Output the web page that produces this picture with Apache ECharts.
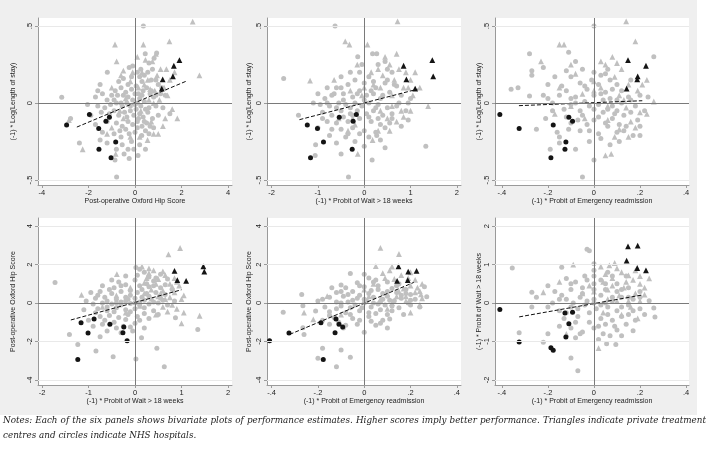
<!DOCTYPE html>
<html>
<head>
<meta charset="utf-8">
<script src="https://cdn.jsdelivr.net/npm/echarts@6/dist/echarts.min.js"></script>
<style>
  html, body { margin:0; padding:0; background:#fff; }
  #wrap { position:relative; width:709px; height:453px; overflow:hidden; }
  #bg { position:absolute; left:0; top:0; width:697px; height:415px; background:#efefef; }
  #chart { position:absolute; left:0; top:0; width:709px; height:453px; }
  #notes { position:absolute; left:3px; top:413px; width:703px; font-family:"DejaVu Serif", serif; font-style:italic;
           font-size:8.8px; line-height:15px; text-align:justify; color:#222; }
</style>
</head>
<body>
<div id="wrap">
  <div id="bg"></div>
  <div id="chart"></div>
  <div id="notes">Notes: Each of the six panels shows bivariate plots of performance estimates. Higher scores imply better performance. Triangles indicate private treatment centres and circles indicate NHS hospitals.</div>
</div>
<script>
// ---------- Axis titles ----------
const T_OHS = 'Post-operative Oxford Hip Score';
const T_LOS = '(-1) * Log(Length of stay)';
const T_WAIT = '(-1) * Probit of Wait > 18 weeks';
const T_EMERG = '(-1) * Probit of Emergency readmission';

// ---------- Tick labels ----------
const ticksLOS = [-0.5, 0, 0.5];
const ticksOHSx = [-4, -2, 0, 2, 4];
const ticksOHSy = [-4, -2, 0, 2, 4];
const ticksWait = [-2, -1, 0, 1, 2];
const ticksEmerg = [-0.4, -0.2, 0, 0.2, 0.4];

// ---------- Highlighted hospitals (black) ----------
// NHS hospitals (circles)
const nhsOHS   = [-2.94, -1.96, -1.10, -1.25, -1.56, -0.83, -1.55, -1.03];
const nhsLOS   = [-0.143, -0.075, -0.093, -0.119, -0.165, -0.253, -0.300, -0.355];
const nhsWait  = [-1.23, -0.17, -0.54, -0.24, -1.01, -0.88, -0.26, -1.16];
const nhsEmerg = [-0.177, -0.409, -0.109, -0.093, -0.325, -0.122, -0.126, -0.187];
// Private treatment centres (triangles)
const tcOHS   = [1.91, 1.63, 1.15, 1.19, 1.67];
const tcLOS   = [0.279, 0.173, 0.093, 0.154, 0.242];
const tcWait  = [1.47, 1.49, 1.10, 0.91, 0.85];
const tcEmerg = [0.148, 0.190, 0.142, 0.188, 0.226];

// ---------- Panel 1: OHS (x) vs LOS (y) ----------
const p1Circles = [[0.36,0.50],[0.44,0.32],[0.93,0.325],[0.82,0.29],[0.60,0.26],[-1.19,0.20],[-0.25,0.23],[-0.1,0.24],[0.1,0.2],[0.55,0.2],[0.75,0.22],[0.2,0.17],[-0.5,0.16],[-0.7,0.14],[-1.5,0.12],[0.3,0.14],[0.9,0.15],[1.0,0.12],[-3.15,0.037],[-1.7,0.04],[-1.4,0.06],[-1.2,0.02],[-1.0,0.05],[-0.85,0.08],[-0.6,0.1],[-0.4,0.07],[-0.3,0.04],[-0.15,0.09],[0.05,0.11],[0.15,0.06],[0.35,0.08],[0.5,0.1],[0.65,0.06],[0.8,0.04],[1.1,0.06],[1.3,0.05],[-2.04,-0.01],[-1.6,-0.02],[-1.3,-0.03],[-1.05,-0.01],[-0.8,0.0],[-0.55,-0.02],[-0.35,0.0],[-0.1,0.02],[0.0,-0.01],[0.1,0.0],[0.25,-0.02],[0.4,0.01],[0.6,-0.03],[0.9,-0.02],[1.2,-0.03],[1.5,-0.07],[-2.77,-0.10],[-1.9,-0.08],[-1.45,-0.06],[-0.9,-0.05],[-0.7,-0.08],[-0.45,-0.06],[-0.2,-0.05],[-0.05,-0.08],[0.05,-0.04],[0.2,-0.07],[0.35,-0.09],[0.55,-0.06],[0.75,-0.1],[1.0,-0.08],[-1.7,-0.14],[-1.2,-0.12],[-0.8,-0.13],[-0.55,-0.15],[-0.3,-0.12],[-0.1,-0.14],[0.1,-0.12],[0.3,-0.15],[0.5,-0.13],[0.8,-0.16],[-1.4,-0.19],[-0.9,-0.2],[-0.6,-0.22],[-0.25,-0.2],[0.0,-0.19],[0.29,-0.21],[0.6,-0.2],[-2.39,-0.26],[-1.2,-0.26],[-0.55,-0.27],[-0.15,-0.25],[0.2,-0.27],[-0.8,-0.3],[-0.47,-0.33],[0.13,-0.34],[-0.86,-0.37],[-0.79,-0.48],[-1.5,-0.24],[-0.3,-0.3],
  [-0.6,0.0],[-0.5,0.05],[-0.2,-0.02],[0.2,0.03],[0.3,0.05],[0.45,-0.04],[0.7,0.08],[-0.9,0.02],[-1.1,-0.07],[-0.35,-0.09],[0.0,0.06],[0.15,-0.1],[0.4,-0.12],[0.65,-0.15],[-0.65,-0.18],[-0.4,-0.17],[0.1,-0.16],[0.45,-0.18],[-0.15,0.17],[0.4,0.18],[0.7,0.15],[-0.3,0.12],[0.25,0.22],[-0.75,0.05],[1.15,0.1],[-1.6,0.08],[-0.05,-0.3],[0.45,-0.3],[0.9,0.05],[-0.25,-0.36]];
const p1Triangles = [[2.48,0.528],[-0.86,0.38],[0.36,0.38],[1.48,0.40],[-0.79,0.27],[0.75,0.27],[1.1,0.22],[2.77,0.18],[1.35,0.22],[0.3,0.2],[-0.5,0.21],[-0.6,0.18],[0.55,0.15],[0.95,0.18],[1.5,0.15],[1.25,0.1],[0.4,0.12],[-0.2,0.14],[0.65,0.09],[0.15,0.1],[-1.0,0.1],[1.05,0.02],[0.8,0.0],[-0.4,0.03],[1.6,-0.04],[1.82,-0.10],[-2.84,-0.11],[-1.0,-0.16],[-0.5,-0.1],[0.7,-0.12],[1.3,-0.1],[-0.2,-0.22],[0.54,-0.24],[0.2,-0.22],[-1.2,-0.2],[-2.25,-0.30],[-0.83,-0.33],[0.8,-0.2],[-0.65,-0.05],[1.2,-0.15],
  [0.45,0.28],[0.85,0.08],[1.4,0.05],[0.6,0.02],[0.25,-0.05],[1.0,-0.2],[0.1,0.3],[-0.1,0.2],[1.7,0.2],[0.9,0.32]];
const p1Fit = [[-2.5,-0.156],[2.19,0.141]];

// ---------- Panel 2: Wait (x) vs LOS (y) ----------
const p2Circles = [[-0.63,0.50],[0.18,0.32],[0.27,0.32],[-0.14,0.30],[0.45,0.27],[0.3,0.25],[-0.3,0.2],[-0.5,0.17],[-0.2,0.15],[0.1,0.17],[0.6,0.2],[-1.74,0.16],[-0.8,0.1],[-0.6,0.1],[-0.35,0.12],[0.0,0.13],[0.25,0.1],[0.45,0.13],[0.7,0.11],[-1.0,0.06],[-0.85,0.03],[-0.7,0.05],[-0.45,0.06],[-0.25,0.04],[-0.1,0.08],[0.05,0.05],[0.2,0.06],[0.35,0.03],[0.55,0.07],[0.8,0.05],[1.0,0.03],[-0.95,-0.01],[-0.75,-0.02],[-0.55,0.0],[-0.4,-0.01],[-0.2,0.0],[-0.05,-0.02],[0.1,0.0],[0.3,-0.01],[0.5,-0.03],[0.7,-0.02],[0.9,-0.05],[-1.42,-0.08],[-0.9,-0.06],[-0.7,-0.08],[-0.5,-0.05],[-0.3,-0.07],[-0.15,-0.05],[0.05,-0.07],[0.2,-0.05],[0.4,-0.08],[0.6,-0.07],[0.95,-0.11],[-0.8,-0.12],[-0.6,-0.13],[-0.35,-0.12],[-0.1,-0.1],[0.15,-0.12],[0.35,-0.14],[0.55,-0.13],[-1.0,-0.16],[-0.5,-0.17],[-0.25,-0.16],[0.0,-0.18],[0.25,-0.19],[0.45,-0.16],[-0.75,-0.21],[-0.4,-0.22],[0.1,-0.22],[0.27,-0.21],[-1.05,-0.27],[-0.6,-0.26],[-0.2,-0.25],[0.45,-0.29],[-1.06,-0.34],[-0.5,-0.33],[0.17,-0.37],[-0.34,-0.48],[1.33,-0.28],[-0.1,-0.2],[0.8,-0.15],
  [-0.45,0.02],[-0.3,-0.03],[-0.6,-0.03],[0.0,0.02],[0.15,0.08],[0.25,-0.03],[0.4,0.05],[-0.15,0.06],[-0.65,0.06],[-0.5,0.1],[-0.25,-0.08],[0.1,-0.09],[-0.45,-0.09],[0.3,-0.1],[0.6,-0.1],[-0.8,0.0],[0.5,0.15],[0.2,0.14],[-0.1,0.2],[0.75,0.0],[-0.35,-0.2],[0.0,-0.28],[-0.7,-0.17],[0.35,-0.24],[-0.05,0.25],[0.5,0.22],[-1.1,0.0],[0.95,0.0],[-0.9,-0.1],[0.65,0.12]];
const p2Triangles = [[0.72,0.53],[-0.41,0.40],[-0.32,0.38],[0.07,0.38],[-1.17,0.145],[0.3,0.22],[0.55,0.25],[0.75,0.22],[0.9,0.2],[1.0,0.15],[0.65,0.15],[0.4,0.18],[0.15,0.2],[-0.15,0.25],[0.85,0.1],[0.6,0.05],[0.35,0.1],[1.05,0.05],[-0.3,0.08],[1.38,-0.02],[0.8,-0.05],[0.5,-0.1],[0.7,-0.12],[0.85,-0.09],[-0.55,-0.1],[-0.25,-0.1],[0.18,-0.24],[-0.14,-0.33],[-0.35,-0.18],[0.35,-0.05],[-0.65,0.15],[0.0,0.1],[1.1,0.2],[-0.2,-0.14],
  [0.45,0.3],[0.2,0.12],[0.95,0.1],[0.6,-0.02],[0.3,-0.18],[1.0,-0.05],[-0.05,0.05],[0.7,0.32],[0.55,-0.18],[1.2,0.1]];
const p2Fit = [[-1.40,-0.108],[1.15,0.09]];

// ---------- Panel 3: Emergency (x) vs LOS (y) ----------
const p3Circles = [[0.0,0.50],[-0.11,0.33],[-0.28,0.32],[0.26,0.30],[-0.22,0.23],[-0.27,0.21],[-0.27,0.18],[-0.05,0.22],[0.0,0.2],[0.03,0.18],[-0.1,0.17],[0.07,0.15],[-0.17,0.17],[-0.06,0.13],[0.02,0.12],[0.1,0.12],[-0.36,0.09],[-0.33,0.10],[-0.12,0.08],[-0.03,0.09],[0.05,0.07],[0.12,0.08],[-0.28,0.045],[-0.2,0.03],[-0.15,0.05],[-0.08,0.04],[0.0,0.05],[0.07,0.03],[0.15,0.04],[0.235,0.04],[-0.18,0.0],[-0.1,-0.01],[-0.04,0.01],[0.02,-0.01],[0.08,-0.02],[0.12,0.0],[0.18,-0.02],[-0.13,-0.04],[-0.06,-0.05],[0.0,-0.04],[0.04,-0.06],[0.1,-0.05],[0.16,-0.06],[0.22,-0.05],[-0.21,-0.10],[-0.12,-0.09],[-0.05,-0.08],[0.02,-0.09],[0.08,-0.1],[0.13,-0.08],[0.19,-0.11],[-0.25,-0.17],[-0.1,-0.13],[-0.03,-0.14],[0.05,-0.13],[0.11,-0.14],[-0.16,-0.19],[-0.15,-0.22],[-0.06,-0.18],[0.02,-0.2],[0.1,-0.19],[0.2,-0.21],[0.17,-0.21],[-0.19,-0.30],[-0.08,-0.30],[0.07,-0.27],[-0.02,-0.25],[0.0,-0.37],[-0.05,-0.48],[0.14,-0.15],[-0.01,0.15],[0.06,0.22],
  [-0.08,0.0],[0.04,0.02],[-0.02,-0.02],[0.06,-0.04],[-0.1,0.03],[0.1,0.02],[0.03,0.06],[-0.04,0.11],[0.08,0.09],[-0.14,0.11],[0.0,-0.11],[-0.07,-0.11],[0.06,-0.15],[0.13,-0.18],[-0.11,-0.17],[-0.02,-0.18],[0.16,0.02],[0.2,0.05],[-0.22,0.05],[-0.18,-0.05],[0.09,-0.07],[0.03,-0.23],[-0.12,0.21],[0.05,0.19],[-0.08,0.27],[0.11,-0.25],[0.2,-0.15],[-0.15,-0.26],[0.16,0.15],[-0.2,0.12]];
const p3Triangles = [[0.14,0.53],[-0.15,0.38],[-0.13,0.38],[0.18,0.40],[-0.23,0.27],[0.03,0.27],[0.05,0.25],[0.12,0.22],[-0.08,0.19],[0.09,0.17],[0.15,0.12],[-0.15,0.1],[0.03,0.1],[0.19,0.08],[0.11,0.05],[-0.05,0.06],[0.26,0.01],[0.2,-0.06],[0.14,-0.03],[0.06,-0.11],[0.16,-0.12],[-0.04,-0.1],[0.11,-0.17],[0.05,-0.34],[0.075,-0.33],[-0.17,-0.07],[0.23,-0.07],[0.0,0.08],[-0.1,-0.02],[0.09,-0.22],
  [0.08,0.3],[0.0,0.14],[0.13,0.02],[0.21,0.12],[0.06,-0.02],[0.18,-0.16],[-0.1,0.25],[0.1,0.26],[0.23,0.15],[0.15,-0.22]];
const p3Fit = [[-0.326,-0.017],[0.21,0.015]];

// ---------- Panel 4: Wait (x) vs OHS (y) ----------
const p4Circles = [[-1.72,1.07],[0.02,1.85],[0.1,1.75],[0.2,1.6],[0.55,1.5],[-0.2,1.4],[0.3,1.35],[-0.5,1.2],[-0.35,1.1],[0.0,1.2],[0.4,1.15],[0.7,1.25],[-0.7,0.9],[-0.45,0.8],[-0.2,0.95],[0.1,0.9],[0.3,0.85],[0.55,0.8],[0.8,0.7],[-0.95,0.55],[-0.75,0.6],[-0.5,0.5],[-0.3,0.6],[-0.1,0.65],[0.05,0.55],[0.25,0.5],[0.45,0.55],[0.65,0.45],[-1.05,0.1],[-0.85,0.25],[-0.65,0.3],[-0.4,0.2],[-0.2,0.3],[0.0,0.25],[0.15,0.3],[0.35,0.2],[0.6,0.15],[0.85,0.1],[-0.9,-0.05],[-0.7,0.0],[-0.5,-0.05],[-0.3,0.05],[-0.1,-0.02],[0.1,0.05],[0.3,-0.05],[0.5,0.0],[0.7,-0.1],[-1.1,-0.35],[-0.8,-0.3],[-0.6,-0.4],[-0.4,-0.25],[-0.2,-0.35],[0.0,-0.3],[0.2,-0.25],[0.4,-0.4],[0.87,-0.76],[-1.0,-0.9],[-0.75,-0.7],[-0.55,-0.65],[-0.35,-0.75],[-0.15,-0.6],[0.05,-0.7],[0.3,-0.8],[-0.9,-1.2],[-0.7,-1.1],[-0.45,-1.0],[-0.25,-1.2],[0.0,-1.05],[0.2,-1.3],[-0.6,-1.45],[-0.3,-1.55],[0.14,-1.8],[-0.75,-1.75],[-1.41,-1.63],[-1.23,-2.15],[-0.84,-2.49],[-0.47,-2.79],[0.02,-2.91],[0.47,-2.35],[0.63,-3.31],[1.35,-1.37],[-0.05,-1.45],[0.65,0.95],[-0.6,0.1],
  [-0.4,0.0],[-0.2,0.1],[0.0,0.0],[0.2,0.15],[0.4,0.05],[-0.6,-0.2],[-0.3,-0.1],[0.1,-0.1],[0.3,0.35],[-0.1,0.4],[0.15,0.7],[0.4,0.9],[-0.3,0.9],[-0.55,0.7],[-0.8,0.4],[-0.45,-0.45],[-0.1,-0.45],[0.2,-0.55],[-0.65,-0.9],[-0.2,-0.85],[0.1,-0.9],[0.5,-0.6],[-0.4,-1.3],[-0.1,-1.25],[0.25,1.0],[0.05,1.45],[0.45,1.3],[-0.85,-0.5],[0.55,0.25],[-0.15,0.2]];
const p4Triangles = [[-1.15,0.42],[-0.39,1.5],[0.97,2.86],[0.72,2.53],[0.15,1.9],[0.4,1.7],[0.6,1.65],[0.3,1.55],[0.85,1.3],[0.5,1.25],[0.75,1.0],[0.95,0.9],[0.2,1.05],[0.6,0.65],[0.85,0.55],[0.35,0.7],[0.75,0.3],[1.0,0.2],[0.5,0.35],[0.9,-0.3],[1.05,-0.5],[1.39,-0.66],[1.0,-1.06],[0.7,-0.45],[-0.2,-0.5],[-0.4,0.4],[0.1,-0.15],[0.45,-0.6],[0.8,-0.1],[-0.7,-0.2],[0.25,1.3],[0.65,0.2],
  [0.45,1.0],[0.65,1.45],[0.9,1.1],[0.55,0.5],[0.2,0.5],[0.8,0.85],[1.05,0.4],[0.3,1.8],[-0.1,0.8],[0.6,-0.2]];
const p4Fit = [[-1.38,-0.88],[1.0,0.69]];

// ---------- Panel 5: Emergency (x) vs OHS (y) ----------
const p5Circles = [[-0.35,-0.48],[-0.27,0.45],[-0.265,-0.14],[-0.21,-0.42],[-0.265,-1.28],[-0.26,-1.63],[-0.10,0.94],[-0.06,1.54],[-0.18,-2.35],[-0.20,-2.87],[-0.12,-3.31],[-0.10,-2.44],[-0.06,-2.82],[0.0,-1.52],[0.11,-0.83],[0.1,-1.3],[0.26,0.85],[0.27,0.33],[0.2,-0.1],[0.0,1.5],[0.02,1.3],[0.05,1.2],[0.1,1.1],[-0.03,1.05],[0.15,1.0],[-0.08,0.8],[0.0,0.85],[0.06,0.9],[0.12,0.75],[0.18,0.7],[-0.12,0.55],[-0.05,0.6],[0.03,0.65],[0.08,0.5],[0.14,0.55],[0.2,0.45],[-0.15,0.3],[-0.09,0.35],[-0.02,0.4],[0.04,0.3],[0.1,0.35],[0.16,0.25],[0.22,0.2],[-0.2,0.1],[-0.12,0.05],[-0.05,0.15],[0.01,0.1],[0.07,0.05],[0.13,0.12],[0.19,0.0],[-0.17,-0.2],[-0.1,-0.15],[-0.04,-0.1],[0.03,-0.2],[0.09,-0.1],[0.15,-0.25],[-0.15,-0.45],[-0.08,-0.5],[-0.02,-0.4],[0.05,-0.55],[0.12,-0.4],[-0.13,-0.75],[-0.05,-0.8],[0.02,-0.7],[0.08,-0.9],[-0.11,-1.0],[-0.03,-1.1],[0.05,-1.15],[-0.18,-0.9],[-0.09,-1.3],[0.03,-0.95],[-0.15,-1.1],[0.17,-0.6],[0.24,-0.2],[-0.06,-0.25],[0.0,0.0],[0.1,0.6],[-0.14,0.8],
  [0.0,0.2],[0.04,0.0],[-0.07,0.05],[0.08,0.2],[-0.03,0.25],[0.06,-0.05],[-0.1,0.0],[0.11,0.15],[0.02,0.5],[-0.07,0.45],[0.06,0.7],[-0.02,0.9],[0.14,0.9],[-0.12,-0.3],[-0.01,-0.25],[0.07,-0.35],[-0.06,-0.6],[0.02,-0.5],[0.1,-0.6],[-0.15,-0.65],[-0.02,-0.9],[0.07,-1.05],[-0.08,-1.15],[0.16,0.4],[0.18,0.5],[-0.18,0.2],[0.12,-0.15],[0.2,0.15],[-0.1,0.6],[0.04,1.1]];
const p5Triangles = [[-0.22,-0.85],[-0.16,0.36],[0.07,2.87],[0.05,1.92],[0.15,2.55],[0.24,0.62],[0.245,0.45],[0.11,1.7],[0.16,1.45],[0.19,1.3],[0.22,1.2],[0.13,1.25],[0.08,1.55],[0.2,0.9],[0.17,0.75],[0.25,1.0],[0.1,0.45],[0.0,0.7],[0.14,0.35],[0.22,0.55],[0.18,0.1],[0.1,-0.3],[-0.1,-0.6],[0.2,-0.5],[-0.26,-0.5],[0.04,1.0],[0.12,0.0],[0.25,0.25],
  [0.09,1.3],[0.14,1.0],[0.2,1.6],[0.18,0.35],[0.23,0.8],[0.07,0.2],[0.15,0.6],[0.24,-0.1],[0.12,1.9],[0.02,0.35]];
const p5Fit = [[-0.322,-1.63],[0.214,1.07]];

// ---------- Panel 6: Emergency (x) vs Wait (y) ----------
const p6Circles = [[-0.355,0.91],[-0.27,0.28],[-0.27,-0.10],[-0.325,-0.77],[-0.22,-1.02],[-0.2,-0.8],[-0.14,0.93],[-0.12,0.64],[-0.03,1.40],[-0.02,1.36],[-0.1,-1.43],[-0.07,-1.76],[0.0,1.02],[0.26,-0.13],[0.265,-0.36],[0.24,0.06],[0.17,-0.72],[0.055,-1.06],[0.095,-1.08],[-0.2,0.45],[-0.17,0.3],[-0.14,0.2],[-0.08,0.55],[-0.04,0.7],[0.0,0.85],[0.03,0.6],[0.06,0.8],[0.1,0.5],[0.14,0.7],[-0.1,0.35],[-0.05,0.4],[0.0,0.5],[0.05,0.35],[0.1,0.3],[0.15,0.4],[0.2,0.3],[-0.18,0.0],[-0.12,0.1],[-0.06,0.15],[0.0,0.1],[0.03,0.2],[0.08,0.05],[0.12,0.15],[0.17,0.1],[-0.15,-0.2],[-0.1,-0.1],[-0.04,-0.05],[0.01,-0.15],[0.06,-0.1],[0.1,-0.2],[0.15,-0.05],[0.2,-0.15],[-0.13,-0.4],[-0.07,-0.35],[-0.02,-0.5],[0.03,-0.4],[0.08,-0.45],[0.12,-0.35],[0.18,-0.45],[-0.1,-0.65],[-0.05,-0.75],[0.0,-0.65],[0.04,-0.8],[0.1,-0.7],[0.14,-0.55],[-0.08,-0.9],[0.02,-0.95],[-0.15,-0.6],[0.22,-0.3],[-0.09,0.0],[0.12,-0.85],[-0.25,0.15],
  [0.0,0.0],[-0.03,0.05],[0.05,0.0],[-0.07,-0.15],[0.03,-0.05],[0.08,0.15],[-0.05,0.25],[0.05,0.5],[0.0,0.35],[-0.1,0.5],[0.12,0.35],[0.15,0.15],[-0.02,-0.25],[0.06,-0.3],[0.09,-0.6],[-0.08,-0.5],[0.02,-0.6],[0.15,-0.3],[-0.12,-0.25],[0.17,-0.2],[-0.03,0.6],[0.08,0.7],[0.12,-0.1],[0.05,-0.55],[-0.15,0.1],[0.2,0.15],[-0.06,-0.8],[0.07,-0.85],[0.0,0.7],[-0.2,-0.1]];
const p6Triangles = [[-0.22,0.28],[-0.09,1.0],[0.02,-1.17],[0.067,0.98],[0.09,1.04],[0.24,0.64],[0.03,0.95],[0.05,0.75],[0.08,0.65],[0.12,0.8],[0.15,0.72],[0.17,0.6],[0.2,0.5],[0.1,0.9],[0.13,0.4],[0.18,0.25],[0.22,0.22],[0.06,0.35],[-0.05,0.25],[0.0,0.3],[0.16,-0.1],[0.19,-0.4],[-0.12,-0.8],[0.12,-0.3],[-0.15,0.55],[0.1,0.05],[0.04,-0.25],[0.2,0.05],
  [0.04,0.55],[0.14,0.55],[0.08,0.45],[0.18,0.85],[0.11,0.2],[0.2,0.7],[-0.02,0.45],[0.15,0.05],[0.06,0.1],[0.22,0.4]];
const p6Fit = [[-0.325,-0.36],[0.21,0.21]];

// ---------- Build ----------
const zip = (a, b) => a.map((v, i) => [v, b[i]]);
const fmt = v => { let s = String(Math.round(v * 100) / 100); return s.replace(/^(-?)0\./, '$1.'); };
const FONT = '"Liberation Sans", Arial, sans-serif';
const GRAY = '#c0c0c0', BLACK = '#141414', TXT = '#222';

const cols = [38, 267, 495];
const rows = [18, 218];
const W = 194, H = 167;

const panels = [
  { r:0, c:0, xName:T_OHS, yName:T_LOS, xr:[-4.17,4.17], yr:[-0.532,0.552], xt:ticksOHSx, yt:ticksLOS,
    circ:p1Circles, tri:p1Triangles, nhs:zip(nhsOHS,nhsLOS), tc:zip(tcOHS,tcLOS), fit:p1Fit, yGap:21 },
  { r:0, c:1, xName:T_WAIT, yName:T_LOS, xr:[-2.1,2.09], yr:[-0.532,0.552], xt:ticksWait, yt:ticksLOS,
    circ:p2Circles, tri:p2Triangles, nhs:zip(nhsWait,nhsLOS), tc:zip(tcWait,tcLOS), fit:p2Fit, yGap:14 },
  { r:0, c:2, xName:T_EMERG, yName:T_LOS, xr:[-0.43,0.413], yr:[-0.532,0.552], xt:ticksEmerg, yt:ticksLOS,
    circ:p3Circles, tri:p3Triangles, nhs:zip(nhsEmerg,nhsLOS), tc:zip(tcEmerg,tcLOS), fit:p3Fit, yGap:12 },
  { r:1, c:0, xName:T_WAIT, yName:T_OHS, xr:[-2.086,2.086], yr:[-4.26,4.42], xt:ticksWait, yt:ticksOHSy,
    circ:p4Circles, tri:p4Triangles, nhs:zip(nhsWait,nhsOHS), tc:zip(tcWait,tcOHS), fit:p4Fit, yGap:21 },
  { r:1, c:1, xName:T_EMERG, yName:T_OHS, xr:[-0.42,0.418], yr:[-4.26,4.42], xt:ticksEmerg, yt:ticksOHSy,
    circ:p5Circles, tri:p5Triangles, nhs:zip(nhsEmerg,nhsOHS), tc:zip(tcEmerg,tcOHS), fit:p5Fit, yGap:14 },
  { r:1, c:2, xName:T_EMERG, yName:T_WAIT, xr:[-0.43,0.413], yr:[-2.13,2.21], xt:ticksEmerg, yt:ticksWait,
    circ:p6Circles, tri:p6Triangles, nhs:zip(nhsEmerg,nhsWait), tc:zip(tcEmerg,tcWait), fit:p6Fit, yGap:12 }
];

const grid = [], xAxis = [], yAxis = [], series = [];
panels.forEach((p, i) => {
  grid.push({ left: cols[p.c], top: rows[p.r], width: W, height: H, show: true,
              backgroundColor: '#fff', borderWidth: 0, containLabel: false });
  const axisCommon = {
    gridIndex: i, type: 'value', splitLine: { show: false },
    axisLine: { show: true, onZero: false, lineStyle: { color: '#9a9a9a', width: 1 } },
    nameLocation: 'middle',
    nameTextStyle: { fontSize: 7, color: TXT, fontFamily: FONT }
  };
  xAxis.push(Object.assign({}, axisCommon, {
    min: p.xr[0], max: p.xr[1], name: p.xName, nameGap: 12,
    axisTick: { show: true, customValues: p.xt, length: 3, lineStyle: { color: '#9a9a9a' } },
    axisLabel: { customValues: p.xt, formatter: fmt, fontSize: 7.5, color: TXT, margin: 4, fontFamily: FONT }
  }));
  yAxis.push(Object.assign({}, axisCommon, {
    min: p.yr[0], max: p.yr[1], name: p.yName, nameGap: p.yGap, nameRotate: 90,
    axisTick: { show: true, customValues: p.yt, length: 3, lineStyle: { color: '#9a9a9a' } },
    axisLabel: { customValues: p.yt, formatter: fmt, fontSize: 7.5, color: TXT, margin: 4, rotate: 90, fontFamily: FONT }
  }));
  const gridLines = p.yt.filter(v => v !== 0).map(v => ({ yAxis: v, lineStyle: { color: '#e9e9e9', width: 1, type: 'solid' } }));
  series.push({
    type: 'line', xAxisIndex: i, yAxisIndex: i, data: [], z: 1, silent: true,
    markLine: { silent: true, symbol: 'none', animation: false, label: { show: false },
      data: gridLines.concat([
        { xAxis: 0, lineStyle: { color: '#7a7a7a', width: 1, type: 'solid' } },
        { yAxis: 0, lineStyle: { color: '#7a7a7a', width: 1, type: 'solid' } }
      ]) }
  });
  series.push({ type: 'scatter', xAxisIndex: i, yAxisIndex: i, data: p.circ, symbol: 'circle', symbolSize: 5,
                itemStyle: { color: GRAY, opacity: 1 }, z: 2, silent: true });
  series.push({ type: 'scatter', xAxisIndex: i, yAxisIndex: i, data: p.tri, symbol: 'triangle', symbolSize: 5.8,
                itemStyle: { color: GRAY, opacity: 1 }, z: 2, silent: true });
  series.push({ type: 'scatter', xAxisIndex: i, yAxisIndex: i, data: p.nhs, symbol: 'circle', symbolSize: 5,
                itemStyle: { color: BLACK, opacity: 1 }, z: 3, silent: true });
  series.push({ type: 'scatter', xAxisIndex: i, yAxisIndex: i, data: p.tc, symbol: 'triangle', symbolSize: 5.8,
                itemStyle: { color: BLACK, opacity: 1 }, z: 3, silent: true });
  series.push({ type: 'line', xAxisIndex: i, yAxisIndex: i, data: p.fit, symbol: 'none', z: 4, silent: true,
                lineStyle: { color: '#111', width: 1, type: [4, 2] } });
});

const chart = echarts.init(document.getElementById('chart'), null, { renderer: 'canvas' });
chart.setOption({ animation: false, backgroundColor: 'transparent', grid, xAxis, yAxis, series });
</script>
</body>
</html>
